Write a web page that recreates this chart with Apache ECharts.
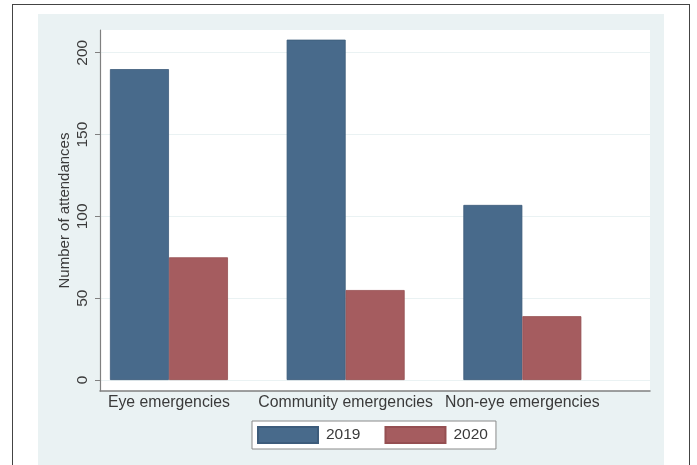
<!DOCTYPE html>
<html>
<head>
<meta charset="utf-8">
<script src="https://cdn.jsdelivr.net/npm/echarts@6/dist/echarts.min.js"></script>
<style>
html,body{margin:0;padding:0;background:#fff;width:697px;height:465px;overflow:hidden;}
#frame{position:absolute;left:12px;top:4px;width:678px;height:480px;border:1.5px solid #444;box-sizing:border-box;}
#region{position:absolute;left:38px;top:14px;width:626px;height:460px;background:#eaf2f3;}
#chart{position:absolute;left:0;top:0;width:697px;height:465px;}
</style>
</head>
<body>
<div id="frame"></div>
<div id="region"></div>
<div id="chart"></div>
<script>
const categories = ['Eye emergencies', 'Community emergencies', 'Non-eye emergencies'];
const seriesNames = ['2019', '2020'];
const values2019 = [190, 208, 107];
const values2020 = [75, 55, 39];
const yTicks = [0, 50, 100, 150, 200];
const yTitle = 'Number of attendances';

const FONT = "'Liberation Sans', Arial, sans-serif";
const TEXT = '#3a3a3a';
const AXIS = '#808080';
const yMin = -6.7, yMax = 213.9;

const chart = echarts.init(document.getElementById('chart'), null, {renderer: 'canvas'});
chart.setOption({
  animation: false,
  textStyle: {fontFamily: FONT},
  grid: [
    {left: 100, right: 47, top: 30, bottom: 74, show: true, backgroundColor: '#ffffff', borderWidth: 0},
    {left: 80.6, right: 86.3, top: 30, bottom: 74}
  ],
  legend: {
    data: seriesNames,
    left: 252, top: 421,
    padding: [5, 8, 5, 5],
    itemWidth: 60, itemHeight: 16, itemGap: 24,
    icon: 'rect',
    backgroundColor: '#ffffff',
    borderColor: '#8a8a8a', borderWidth: 1,
    textStyle: {fontFamily: FONT, fontSize: 15.5, color: TEXT, padding: [0, 0, 0, 3]}
  },
  xAxis: [
    {gridIndex: 0, type: 'value', min: 0, max: 1,
     axisLine: {show: true, onZero: false, lineStyle: {color: AXIS, width: 1.5}},
     axisTick: {show: false}, axisLabel: {show: false}, splitLine: {show: false}},
    {gridIndex: 1, type: 'category', data: categories,
     axisLine: {show: false}, axisTick: {show: false}, splitLine: {show: false},
     axisLabel: {interval: 0, margin: 4, fontSize: 15.8, color: TEXT, fontFamily: FONT}}
  ],
  yAxis: [
    {gridIndex: 0, type: 'value', min: yMin, max: yMax,
     name: yTitle, nameLocation: 'middle', nameGap: 28, nameMoveOverlap: false,
     nameTextStyle: {fontSize: 15, color: TEXT, fontFamily: FONT},
     axisLine: {show: true, lineStyle: {color: AXIS, width: 1.2}},
     axisTick: {show: true, customValues: yTicks, length: 5, lineStyle: {color: AXIS, width: 1}},
     axisLabel: {customValues: yTicks, rotate: 90, margin: 9, fontSize: 15.5, color: TEXT, fontFamily: FONT},
     splitLine: {show: true, customValues: yTicks, lineStyle: {color: '#eaf2f3', width: 1.2}}},
    {gridIndex: 1, type: 'value', min: yMin, max: yMax, show: false}
  ],
  series: [
    {name: seriesNames[0], type: 'bar', xAxisIndex: 1, yAxisIndex: 1, data: values2019,
     barWidth: 59, barGap: '0%',
     itemStyle: {color: '#486a8b', borderColor: '#3d5c7b', borderWidth: 0.8}},
    {name: seriesNames[1], type: 'bar', xAxisIndex: 1, yAxisIndex: 1, data: values2020,
     barWidth: 59, barGap: '0%',
     itemStyle: {color: '#a55c5f', borderColor: '#954f52', borderWidth: 0.8}}
  ]
});
</script>
</body>
</html>
